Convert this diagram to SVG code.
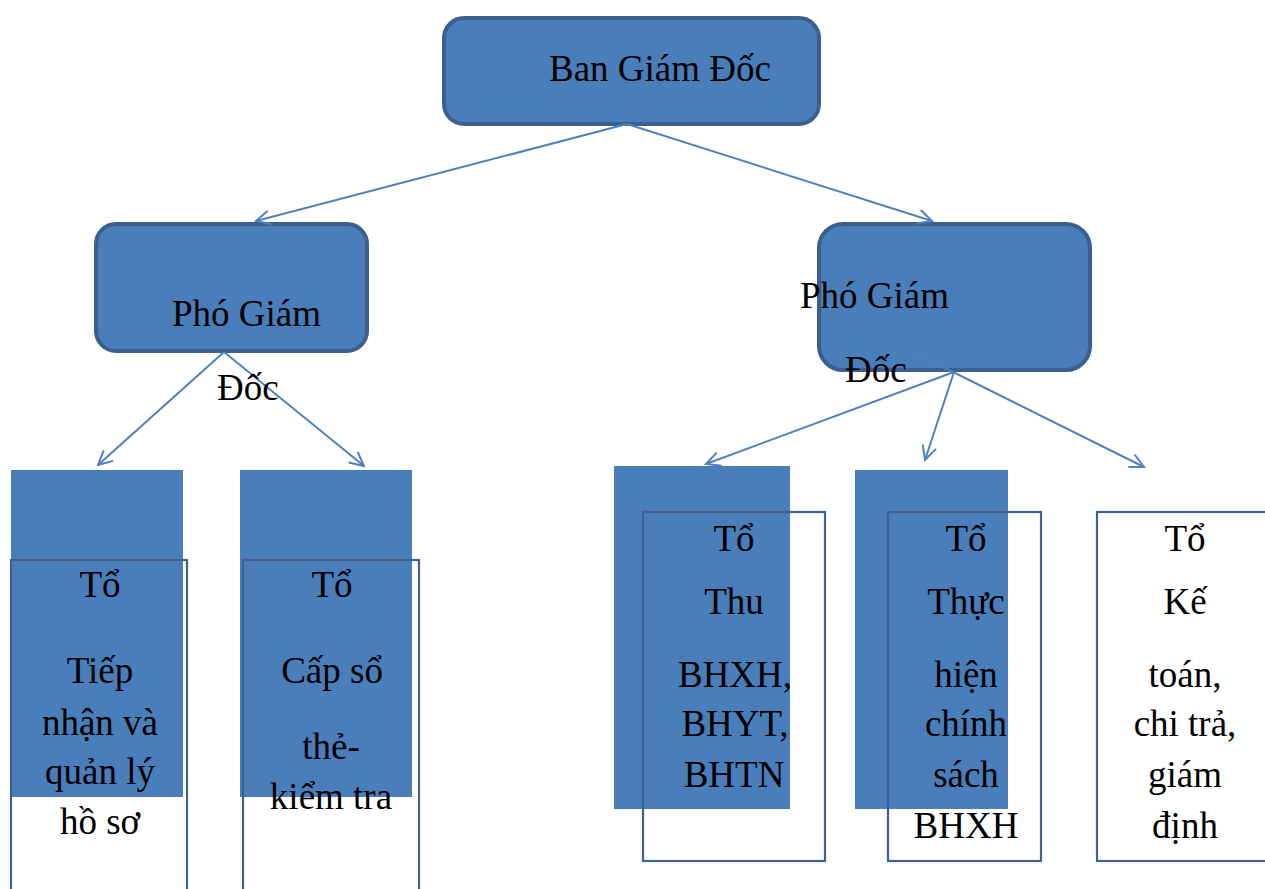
<svg xmlns="http://www.w3.org/2000/svg" width="1265" height="889" viewBox="0 0 1265 889">
  <style>
    .lead { fill: #4a7ebb; stroke: #3b5f8e; stroke-width: 4; }
    .block { fill: #4a7ebb; stroke: none; }
    .frame { fill: none; stroke: #3d6192; stroke-width: 2.2; }
    .lbl { font-family: "Liberation Serif", "Times New Roman", serif; font-size: 37px; fill: #000; }
    .mid { text-anchor: middle; }
    .conn { stroke: #4f81bd; stroke-width: 2; fill: none; marker-end: url(#vhead); }
  </style>
  <defs>
    <marker id="vhead" viewBox="0 0 18 18" refX="16" refY="9" markerWidth="18" markerHeight="18" markerUnits="userSpaceOnUse" orient="auto">
      <path d="M2,2 L16,9 L2,16" fill="none" stroke="#4f81bd" stroke-width="2"/>
    </marker>
  </defs>

  <rect width="1265" height="889" fill="#ffffff"/>

  <!-- top level -->
  <g id="ban-giam-doc">
    <rect class="lead" x="444" y="18" width="375" height="106" rx="20"/>
    <text class="lbl" x="549" y="81">Ban Giám Đốc</text>
  </g>

  <!-- deputies -->
  <g id="pho-giam-doc-1">
    <rect class="lead" x="96" y="224" width="271" height="127" rx="20"/>
  </g>
  <g id="pho-giam-doc-2">
    <rect class="lead" x="819" y="224" width="271" height="146" rx="24"/>
  </g>

  <!-- teams -->
  <g id="to-tiep-nhan">
    <rect class="block" x="11" y="470" width="172" height="327"/>
    <rect class="frame" x="11" y="560" width="176" height="340"/>
    <text class="lbl mid" x="100" y="597">Tổ</text>
    <text class="lbl mid" x="100" y="683">Tiếp</text>
    <text class="lbl mid" x="100" y="735">nhận và</text>
    <text class="lbl mid" x="100" y="784">quản lý</text>
    <text class="lbl mid" x="100" y="834">hồ sơ</text>
  </g>

  <g id="to-cap-so">
    <rect class="block" x="240" y="470" width="172" height="327"/>
    <rect class="frame" x="243" y="560" width="176" height="340"/>
    <text class="lbl mid" x="332" y="597">Tổ</text>
    <text class="lbl mid" x="332" y="683">Cấp sổ</text>
    <text class="lbl mid" x="331" y="759">thẻ-</text>
    <text class="lbl mid" x="331" y="809">kiểm tra</text>
  </g>

  <g id="to-thu">
    <rect class="block" x="614" y="466" width="176" height="343"/>
    <rect class="frame" x="643" y="512" width="182" height="349"/>
    <text class="lbl mid" x="734" y="551">Tổ</text>
    <text class="lbl mid" x="734" y="614">Thu</text>
    <text class="lbl mid" x="735" y="687">BHXH,</text>
    <text class="lbl mid" x="735" y="736">BHYT,</text>
    <text class="lbl mid" x="734" y="787">BHTN</text>
  </g>

  <g id="to-thuc-hien">
    <rect class="block" x="855" y="470" width="153" height="339"/>
    <rect class="frame" x="888" y="512" width="153" height="349"/>
    <text class="lbl mid" x="966" y="551">Tổ</text>
    <text class="lbl mid" x="966" y="614">Thực</text>
    <text class="lbl mid" x="966" y="687">hiện</text>
    <text class="lbl mid" x="966" y="736">chính</text>
    <text class="lbl mid" x="966" y="787">sách</text>
    <text class="lbl mid" x="966" y="838">BHXH</text>
  </g>

  <g id="to-ke-toan">
    <rect class="frame" x="1097" y="512" width="175" height="349"/>
    <text class="lbl mid" x="1185" y="551">Tổ</text>
    <text class="lbl mid" x="1185" y="614">Kế</text>
    <text class="lbl mid" x="1185" y="687">toán,</text>
    <text class="lbl mid" x="1185" y="736">chi trả,</text>
    <text class="lbl mid" x="1185" y="787">giám</text>
    <text class="lbl mid" x="1185" y="838">định</text>
  </g>

  <!-- connectors -->
  <g id="connectors">
    <line class="conn" x1="627" y1="124" x2="256" y2="221"/>
    <line class="conn" x1="627" y1="124" x2="932" y2="221"/>
    <line class="conn" x1="224" y1="352" x2="98" y2="465"/>
    <line class="conn" x1="224" y1="352" x2="364" y2="466"/>
    <line class="conn" x1="954" y1="372" x2="706" y2="464"/>
    <line class="conn" x1="954" y1="372" x2="925" y2="460"/>
    <line class="conn" x1="913" y1="352" x2="1144" y2="467"/>
  </g>

  <!-- deputy labels drawn above the connectors -->
  <g id="pho-giam-doc-labels">
    <text class="lbl" x="172" y="326">Phó Giám</text>
    <text class="lbl" x="217" y="400">Đốc</text>
    <text class="lbl" x="800" y="308">Phó Giám</text>
    <text class="lbl" x="845" y="382">Đốc</text>
  </g>
</svg>
